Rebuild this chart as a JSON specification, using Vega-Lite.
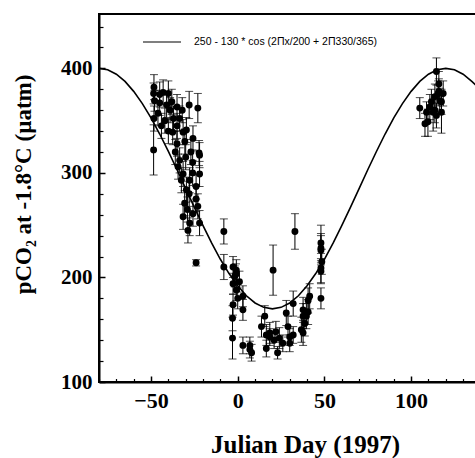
{
  "$schema": "https://vega.github.io/schema/vega-lite/v6.json",
  "autosize": {"type": "none"},
  "padding": {"left": 99, "top": 14, "right": 0, "bottom": 76},
  "width": 378,
  "height": 368,
  "background": "white",
  "config": {
    "view": {"stroke": "black", "strokeWidth": 2},
    "axis": {"grid": false, "domainColor": "black", "tickColor": "black", "labelColor": "black", "titleColor": "black"}
  },
  "datasets": {
    "curve": [
      {"d": -80, "v": 400}, {"d": -75, "v": 398.6}, {"d": -70, "v": 394.4}, {"d": -65, "v": 387.5},
      {"d": -60, "v": 378.0}, {"d": -55, "v": 366.3}, {"d": -50, "v": 352.6}, {"d": -45, "v": 337.2},
      {"d": -40, "v": 320.5}, {"d": -35, "v": 303.0}, {"d": -30, "v": 285.0}, {"d": -25, "v": 267.0},
      {"d": -20, "v": 249.5}, {"d": -15, "v": 232.8}, {"d": -10, "v": 217.4}, {"d": -5, "v": 203.7},
      {"d": 0, "v": 192.0}, {"d": 5, "v": 182.5}, {"d": 10, "v": 175.6}, {"d": 15, "v": 171.4},
      {"d": 20, "v": 170.0}, {"d": 25, "v": 171.4}, {"d": 30, "v": 175.6}, {"d": 35, "v": 182.5},
      {"d": 40, "v": 192.0}, {"d": 45, "v": 203.7}, {"d": 50, "v": 217.4}, {"d": 55, "v": 232.8},
      {"d": 60, "v": 249.5}, {"d": 65, "v": 267.0}, {"d": 70, "v": 285.0}, {"d": 75, "v": 303.0},
      {"d": 80, "v": 320.5}, {"d": 85, "v": 337.2}, {"d": 90, "v": 352.6}, {"d": 95, "v": 366.3},
      {"d": 100, "v": 378.0}, {"d": 105, "v": 387.5}, {"d": 110, "v": 394.4}, {"d": 115, "v": 398.6},
      {"d": 120, "v": 400.0}, {"d": 125, "v": 398.6}, {"d": 130, "v": 394.4}, {"d": 135, "v": 387.5},
      {"d": 138, "v": 383.0}
    ],
    "obs": [
      {"d": -48.3, "v": 382, "lo": 370, "hi": 394},
      {"d": -48.5, "v": 376, "lo": 366, "hi": 386},
      {"d": -48, "v": 369, "lo": 359, "hi": 379},
      {"d": -48.3, "v": 352, "lo": 340, "hi": 364},
      {"d": -48.5, "v": 322, "lo": 298, "hi": 346},
      {"d": -46, "v": 357, "lo": 345, "hi": 369},
      {"d": -45, "v": 375, "lo": 363, "hi": 387},
      {"d": -45, "v": 367, "lo": 355, "hi": 379},
      {"d": -44, "v": 345, "lo": 333, "hi": 357},
      {"d": -43, "v": 377, "lo": 365, "hi": 389},
      {"d": -42, "v": 350, "lo": 338, "hi": 362},
      {"d": -41, "v": 365, "lo": 353, "hi": 377},
      {"d": -40, "v": 376, "lo": 364, "hi": 388},
      {"d": -40, "v": 340, "lo": 328, "hi": 352},
      {"d": -39, "v": 360, "lo": 348, "hi": 372},
      {"d": -38, "v": 368, "lo": 356, "hi": 380},
      {"d": -37.5, "v": 339, "lo": 327, "hi": 351},
      {"d": -37, "v": 352, "lo": 340, "hi": 364},
      {"d": -36, "v": 320, "lo": 308, "hi": 332},
      {"d": -35, "v": 363, "lo": 351, "hi": 375},
      {"d": -35, "v": 345, "lo": 333, "hi": 357},
      {"d": -35, "v": 328, "lo": 316, "hi": 340},
      {"d": -34.4, "v": 306, "lo": 294, "hi": 318},
      {"d": -33.5, "v": 352, "lo": 340, "hi": 364},
      {"d": -33.5, "v": 312, "lo": 300, "hi": 324},
      {"d": -32.5, "v": 293, "lo": 281, "hi": 305},
      {"d": -32, "v": 360, "lo": 348, "hi": 372},
      {"d": -31.5, "v": 339, "lo": 327, "hi": 351},
      {"d": -31.5, "v": 299, "lo": 287, "hi": 311},
      {"d": -31.5, "v": 258, "lo": 246, "hi": 270},
      {"d": -30.6, "v": 271, "lo": 259, "hi": 283},
      {"d": -30.5, "v": 330, "lo": 318, "hi": 342},
      {"d": -30, "v": 315, "lo": 303, "hi": 327},
      {"d": -29.6, "v": 341, "lo": 329, "hi": 353},
      {"d": -29.6, "v": 284, "lo": 272, "hi": 296},
      {"d": -29, "v": 265, "lo": 253, "hi": 277},
      {"d": -28.7, "v": 245, "lo": 233, "hi": 257},
      {"d": -28, "v": 365, "lo": 352, "hi": 378},
      {"d": -28, "v": 280, "lo": 268, "hi": 292},
      {"d": -27.7, "v": 293, "lo": 281, "hi": 305},
      {"d": -27.7, "v": 252, "lo": 240, "hi": 264},
      {"d": -27, "v": 320, "lo": 308, "hi": 332},
      {"d": -26, "v": 310, "lo": 298, "hi": 322},
      {"d": -26, "v": 300, "lo": 288, "hi": 312},
      {"d": -25.8, "v": 333, "lo": 321, "hi": 345},
      {"d": -25.8, "v": 261, "lo": 249, "hi": 273},
      {"d": -24, "v": 287, "lo": 275, "hi": 299},
      {"d": -24, "v": 275, "lo": 263, "hi": 287},
      {"d": -24, "v": 214, "lo": 211, "hi": 217},
      {"d": -23, "v": 362, "lo": 348, "hi": 376},
      {"d": -23, "v": 268, "lo": 256, "hi": 280},
      {"d": -22.3, "v": 319, "lo": 307, "hi": 331},
      {"d": -22, "v": 317, "lo": 305, "hi": 329},
      {"d": -22, "v": 299, "lo": 287, "hi": 311},
      {"d": -22, "v": 252, "lo": 240, "hi": 264},
      {"d": -8, "v": 244, "lo": 232, "hi": 256},
      {"d": -8, "v": 210, "lo": 198, "hi": 222},
      {"d": -2.7, "v": 210, "lo": 200, "hi": 220},
      {"d": -1.7, "v": 201, "lo": 191, "hi": 211},
      {"d": -1, "v": 203, "lo": 193, "hi": 213},
      {"d": -2.7, "v": 194, "lo": 184, "hi": 204},
      {"d": -0.8, "v": 188, "lo": 178, "hi": 198},
      {"d": -0.8, "v": 207, "lo": 197, "hi": 217},
      {"d": 0, "v": 180, "lo": 170, "hi": 190},
      {"d": 1, "v": 196, "lo": 186, "hi": 206},
      {"d": -2.7, "v": 174, "lo": 164, "hi": 184},
      {"d": 3, "v": 182, "lo": 172, "hi": 192},
      {"d": 3, "v": 169, "lo": 159, "hi": 179},
      {"d": -3, "v": 161, "lo": 149, "hi": 173},
      {"d": -3, "v": 142, "lo": 122, "hi": 162},
      {"d": 3, "v": 135, "lo": 127, "hi": 143},
      {"d": 7, "v": 135, "lo": 127, "hi": 143},
      {"d": 7, "v": 131, "lo": 123, "hi": 139},
      {"d": 8, "v": 128, "lo": 120, "hi": 136},
      {"d": 20.4, "v": 207, "lo": 183, "hi": 231},
      {"d": 33, "v": 244, "lo": 227, "hi": 261},
      {"d": 13.7, "v": 153, "lo": 143, "hi": 163},
      {"d": 15.6, "v": 163, "lo": 153, "hi": 173},
      {"d": 16.5, "v": 145, "lo": 135, "hi": 155},
      {"d": 16.5, "v": 132, "lo": 124, "hi": 140},
      {"d": 18.5, "v": 147, "lo": 137, "hi": 157},
      {"d": 18.5, "v": 143, "lo": 135, "hi": 151},
      {"d": 21, "v": 140, "lo": 132, "hi": 148},
      {"d": 22, "v": 148, "lo": 138, "hi": 158},
      {"d": 23, "v": 128, "lo": 122, "hi": 134},
      {"d": 24, "v": 142, "lo": 132, "hi": 152},
      {"d": 26, "v": 137, "lo": 129, "hi": 145},
      {"d": 28, "v": 166, "lo": 154, "hi": 178},
      {"d": 29, "v": 153, "lo": 143, "hi": 163},
      {"d": 30, "v": 137, "lo": 129, "hi": 145},
      {"d": 30, "v": 143, "lo": 135, "hi": 151},
      {"d": 32, "v": 175, "lo": 163, "hi": 187},
      {"d": 32, "v": 145, "lo": 137, "hi": 153},
      {"d": 36.7, "v": 150, "lo": 138, "hi": 162},
      {"d": 37.7, "v": 147, "lo": 135, "hi": 159},
      {"d": 37.7, "v": 163, "lo": 151, "hi": 175},
      {"d": 37.7, "v": 169, "lo": 157, "hi": 181},
      {"d": 38.7, "v": 156, "lo": 144, "hi": 168},
      {"d": 39.6, "v": 163, "lo": 151, "hi": 175},
      {"d": 40.6, "v": 167, "lo": 155, "hi": 179},
      {"d": 40.6, "v": 178, "lo": 166, "hi": 190},
      {"d": 41.5, "v": 182, "lo": 170, "hi": 194},
      {"d": 48, "v": 233, "lo": 216, "hi": 250},
      {"d": 48, "v": 228, "lo": 214, "hi": 242},
      {"d": 48, "v": 226, "lo": 212, "hi": 240},
      {"d": 48.5, "v": 215, "lo": 203, "hi": 227},
      {"d": 48, "v": 209, "lo": 195, "hi": 223},
      {"d": 48, "v": 206, "lo": 194, "hi": 218},
      {"d": 48, "v": 180, "lo": 170, "hi": 190},
      {"d": 114.6, "v": 397, "lo": 384, "hi": 410},
      {"d": 116, "v": 385, "lo": 373, "hi": 397},
      {"d": 116, "v": 378, "lo": 366, "hi": 390},
      {"d": 115.6, "v": 376, "lo": 364, "hi": 388},
      {"d": 118.5, "v": 376, "lo": 364, "hi": 388},
      {"d": 113.7, "v": 373, "lo": 361, "hi": 385},
      {"d": 116.5, "v": 369, "lo": 357, "hi": 381},
      {"d": 117.5, "v": 368, "lo": 356, "hi": 380},
      {"d": 111.7, "v": 368, "lo": 356, "hi": 380},
      {"d": 110.8, "v": 363, "lo": 351, "hi": 375},
      {"d": 105, "v": 362, "lo": 352, "hi": 372},
      {"d": 113.7, "v": 360, "lo": 348, "hi": 372},
      {"d": 108.9, "v": 358, "lo": 348, "hi": 368},
      {"d": 112.7, "v": 358, "lo": 340, "hi": 370},
      {"d": 117.5, "v": 358, "lo": 338, "hi": 376},
      {"d": 114.6, "v": 355, "lo": 343, "hi": 367},
      {"d": 109.7, "v": 349, "lo": 335, "hi": 361},
      {"d": 108, "v": 347, "lo": 335, "hi": 357}
    ]
  },
  "resolve": {"axis": {"x": "independent", "y": "independent"}},
  "layer": [
    {
      "data": {"name": "curve"},
      "mark": {"type": "line", "color": "black", "strokeWidth": 1.6, "clip": true},
      "encoding": {
        "x": {
          "field": "d", "type": "quantitative",
          "scale": {"domain": [-80, 138], "nice": false, "zero": false},
          "axis": {
            "orient": "bottom", "values": [-50, 0, 50, 100], "format": "d",
            "domainWidth": 2, "tickWidth": 1.5, "tickSize": -6,
            "labelFont": "Liberation Serif", "labelFontWeight": "bold", "labelFontSize": 22,
            "labelPadding": 14, "labelBaseline": "top", "labelFlush": false,
            "title": "Julian Day (1997)", "titleFont": "Liberation Serif", "titleFontWeight": "bold",
            "titleFontSize": 25, "titleX": 206, "titleY": 62, "titleAlign": "center", "titleBaseline": "middle"
          }
        },
        "y": {
          "field": "v", "type": "quantitative",
          "scale": {"domain": [100, 452], "nice": false, "zero": false},
          "axis": {
            "orient": "left", "values": [100, 200, 300, 400],
            "domainWidth": 2, "tickWidth": 1.5, "tickSize": -6,
            "labelFont": "Liberation Serif", "labelFontWeight": "bold", "labelFontSize": 21,
            "labelPadding": 13, "labelFlush": false,
            "title": "pCO₂ at -1.8°C (µatm)", "titleFont": "Liberation Serif", "titleFontWeight": "bold",
            "titleFontSize": 23, "titleX": -76, "titleY": 170, "titleAngle": -90,
            "titleAlign": "center", "titleBaseline": "middle"
          }
        },
        "color": {
          "datum": "250 - 130 * cos (2Πx/200 + 2Π330/365)",
          "type": "nominal",
          "scale": {"range": ["black"]},
          "legend": {
            "title": null, "orient": "none", "legendX": 43, "legendY": 8, "padding": 0,
            "symbolType": "stroke", "symbolSize": 1444, "symbolStrokeWidth": 1.2,
            "labelOffset": 12, "labelFont": "Liberation Sans", "labelFontSize": 10.5,
            "labelColor": "black", "labelLimit": 400
          }
        }
      }
    },
    {
      "data": {"name": "obs"},
      "mark": {"type": "errorbar", "ticks": {"size": 8, "color": "black", "strokeWidth": 1.2}, "color": "black", "strokeWidth": 1.2},
      "encoding": {
        "x": {"field": "d", "type": "quantitative", "axis": null},
        "y": {"field": "lo", "type": "quantitative", "axis": null},
        "y2": {"field": "hi"}
      }
    },
    {
      "data": {"name": "obs"},
      "mark": {"type": "point", "filled": true, "color": "black", "size": 48, "opacity": 1},
      "encoding": {
        "x": {
          "field": "d", "type": "quantitative",
          "axis": {
            "orient": "bottom", "values": [-80, -70, -60, -40, -30, -20, -10, 10, 20, 30, 40, 60, 70, 80, 90, 110, 120, 130],
            "labels": false, "domain": false, "tickSize": -3.5, "tickWidth": 1.2, "title": null
          }
        },
        "y": {
          "field": "v", "type": "quantitative",
          "axis": {
            "orient": "left", "values": [120, 140, 160, 180, 220, 240, 260, 280, 320, 340, 360, 380, 420, 440],
            "labels": false, "domain": false, "tickSize": -4, "tickWidth": 1.2, "title": null
          }
        }
      }
    }
  ]
}
